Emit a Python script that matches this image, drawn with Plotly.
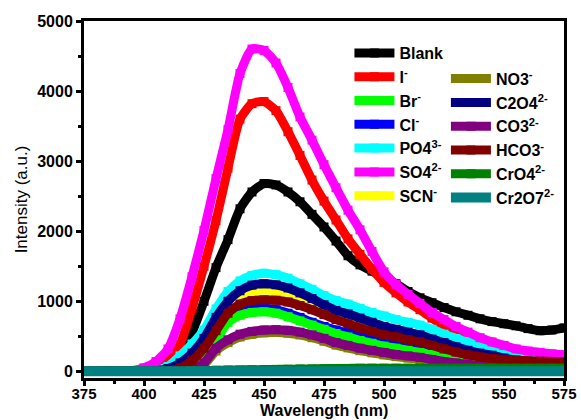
import plotly.graph_objects as go

wavelength = list(range(375, 580, 5))

blank = [0, 0, 0, 0, 5, 15, 50, 150, 300, 560, 1000, 1480, 1880, 2320, 2560, 2680, 2660, 2560, 2420, 2240, 2060,
         1860, 1650, 1520, 1430, 1340, 1250, 1140, 1050, 980, 910, 850, 800, 750, 710, 680, 650, 610, 580, 590, 620]
iodide = [0, 0, 0, 0, 5, 30, 70, 150, 380, 900, 1500, 2150, 2900, 3600, 3820, 3850, 3720, 3420, 3080, 2730, 2430,
          2160, 1890, 1670, 1460, 1270, 1120, 990, 880, 760, 640, 520, 430, 370, 310, 280, 250, 230, 215, 205, 195]
bromide = [0, 0, 0, 0, 0, 0, 0, 5, 30, 120, 280, 450, 700, 800, 840, 850, 830, 780, 720, 660, 600,
           540, 490, 440, 400, 360, 330, 300, 270, 240, 200, 170, 150, 130, 115, 100, 90, 85, 80, 75, 70]
chloride = [0, 0, 0, 0, 0, 0, 5, 15, 40, 150, 320, 520, 760, 860, 895, 900, 880, 830, 770, 700, 640,
            590, 550, 510, 470, 430, 400, 370, 340, 300, 260, 230, 200, 175, 155, 140, 125, 115, 105, 100, 95]
phosphate = [0, 0, 0, 0, 0, 5, 20, 70, 220, 390, 590, 890, 1140, 1290, 1370, 1400, 1380, 1330, 1250, 1170, 1080,
             1010, 960, 900, 840, 790, 740, 700, 660, 600, 530, 470, 420, 370, 330, 300, 260, 230, 210, 195, 180]
sulfate = [0, 0, 0, 0, 10, 50, 140, 320, 750, 1350, 2010, 2750, 3450, 4250, 4600, 4580, 4400, 4050, 3630, 3300, 2950,
           2620, 2300, 2020, 1710, 1420, 1240, 1100, 970, 840, 740, 640, 560, 480, 420, 370, 320, 290, 270, 250, 235]
thiocyanate = [0, 0, 0, 0, 0, 0, 5, 30, 100, 220, 420, 700, 920, 1070, 1140, 1160, 1150, 1110, 1040, 960, 880,
               800, 750, 690, 640, 590, 550, 510, 470, 420, 370, 320, 275, 240, 210, 175, 150, 130, 115, 105, 95]
nitrate = [0, 0, 0, 0, 0, 0, 0, 0, 0, 10, 90, 290, 410, 490, 530, 550, 555, 545, 520, 480, 430,
           375, 335, 295, 265, 235, 210, 190, 170, 145, 120, 100, 85, 70, 60, 50, 45, 40, 38, 35, 35]
oxalate = [0, 0, 0, 0, 0, 0, 10, 40, 120, 260, 470, 770, 1000, 1150, 1230, 1250, 1235, 1190, 1120, 1040, 950,
           870, 820, 760, 700, 640, 600, 560, 520, 460, 410, 350, 300, 260, 230, 190, 160, 140, 125, 115, 105]
carbonate = [0, 0, 0, 0, 0, 0, 0, 0, 0, 20, 120, 330, 450, 530, 570, 590, 595, 585, 560, 520, 470,
             410, 370, 330, 300, 270, 240, 220, 200, 170, 140, 120, 100, 80, 70, 60, 55, 50, 45, 40, 40]
bicarbonate = [0, 0, 0, 0, 0, 0, 0, 10, 50, 150, 330, 580, 830, 960, 1010, 1020, 1015, 990, 940, 880, 810,
               740, 680, 620, 570, 520, 490, 450, 420, 370, 320, 275, 235, 205, 185, 170, 160, 150, 145, 140, 135]
chromate = [0, 0, 0, 0, 0, 0, 0, 0, 0, 5, 10, 15, 18, 20, 22, 25, 28, 30, 33, 35, 38,
            40, 42, 44, 45, 45, 45, 45, 45, 45, 45, 45, 45, 45, 45, 45, 45, 45, 45, 45, 45]
dichromate = [0, 0, 0, 0, 0, 0, 0, 0, 0, 0, 0, 0, 0, 0, 0, 0, 0, 0, 0, 0, 0,
              0, 0, 0, 0, 0, 0, 0, 0, 0, 0, 0, 0, 0, 0, 0, 0, 0, 0, 0, 0]

x_title = "Wavelength (nm)"
y_title = "Intensity (a.u.)"

# (name, data, colour, legend, rank) in drawing order
series = [
    ("Blank", blank, "#000000", "legend", 1),
    ("I<sup>-</sup>", iodide, "#FF0000", "legend", 2),
    ("Cl<sup>-</sup>", chloride, "#0000FF", "legend", 4),
    ("Br<sup>-</sup>", bromide, "#00FF00", "legend", 3),
    ("PO4<sup>3-</sup>", phosphate, "#00FFFF", "legend", 5),
    ("SO4<sup>2-</sup>", sulfate, "#FF00FF", "legend", 6),
    ("SCN<sup>-</sup>", thiocyanate, "#FFFF00", "legend", 7),
    ("NO3<sup>-</sup>", nitrate, "#808000", "legend2", 1),
    ("C2O4<sup>2-</sup>", oxalate, "#000080", "legend2", 2),
    ("CO3<sup>2-</sup>", carbonate, "#800080", "legend2", 3),
    ("HCO3<sup>-</sup>", bicarbonate, "#800000", "legend2", 4),
    ("CrO4<sup>2-</sup>", chromate, "#008000", "legend2", 5),
    ("Cr2O7<sup>2-</sup>", dichromate, "#008080", "legend2", 6),
]

fig = go.Figure()
for name, data, color, leg, rank in series:
    w = 10 if name.startswith("Cr2O7") else 9
    fig.add_trace(go.Scatter(
        x=wavelength, y=data, name=name, mode="lines+markers",
        line=dict(color=color, width=w, shape="spline", smoothing=0.6),
        marker=dict(symbol="square", size=9, color=color),
        legend=leg, legendrank=rank, legendgroup=name,
    ))

font_family = "Liberation Sans, Arial, sans-serif"
legend_font = dict(family=font_family, size=16, color="black", weight="bold")

fig.update_layout(
    width=581, height=420,
    margin=dict(l=84, r=17, t=21, b=42),
    paper_bgcolor="white", plot_bgcolor="white",
    font=dict(family=font_family, color="black"),
    legend=dict(x=0.553, y=0.958, xanchor="left", yanchor="top", font=legend_font,
                bgcolor="rgba(0,0,0,0)", tracegroupgap=0, itemwidth=40),
    legend2=dict(x=0.754, y=0.886, xanchor="left", yanchor="top", font=legend_font,
                 bgcolor="rgba(0,0,0,0)", tracegroupgap=0, itemwidth=40),
    showlegend=True,
    annotations=[dict(
        text=x_title, xref="paper", yref="paper", x=0.5, y=0,
        xanchor="center", yanchor="top", yshift=-22, showarrow=False,
        font=dict(family=font_family, size=16, color="black", weight="bold"),
    )],
)

fig.update_xaxes(
    range=[375, 575], tick0=375, dtick=25, automargin=False,
    showline=True, linewidth=3, linecolor="black", mirror=True,
    ticks="outside", ticklen=5, tickwidth=3, tickcolor="black", ticklabelstandoff=-5,
    tickfont=dict(family=font_family, size=15, color="black", weight="bold"),
    minor=dict(dtick=12.5, tick0=375, ticks="outside", ticklen=3, tickwidth=3, tickcolor="black"),
    showgrid=False, zeroline=False,
)
fig.update_yaxes(
    range=[-95, 5000], tick0=0, dtick=1000, automargin=False,
    showline=True, linewidth=3, linecolor="black", mirror=True,
    ticks="outside", ticklen=5, tickwidth=3, tickcolor="black",
    tickfont=dict(family=font_family, size=16, color="black", weight="bold"),
    minor=dict(dtick=500, tick0=0, ticks="outside", ticklen=3, tickwidth=3, tickcolor="black"),
    showgrid=False, zeroline=False,
    title=dict(text=y_title, standoff=6,
               font=dict(family=font_family, size=17, color="black")),
)

fig.write_html("out.html")
